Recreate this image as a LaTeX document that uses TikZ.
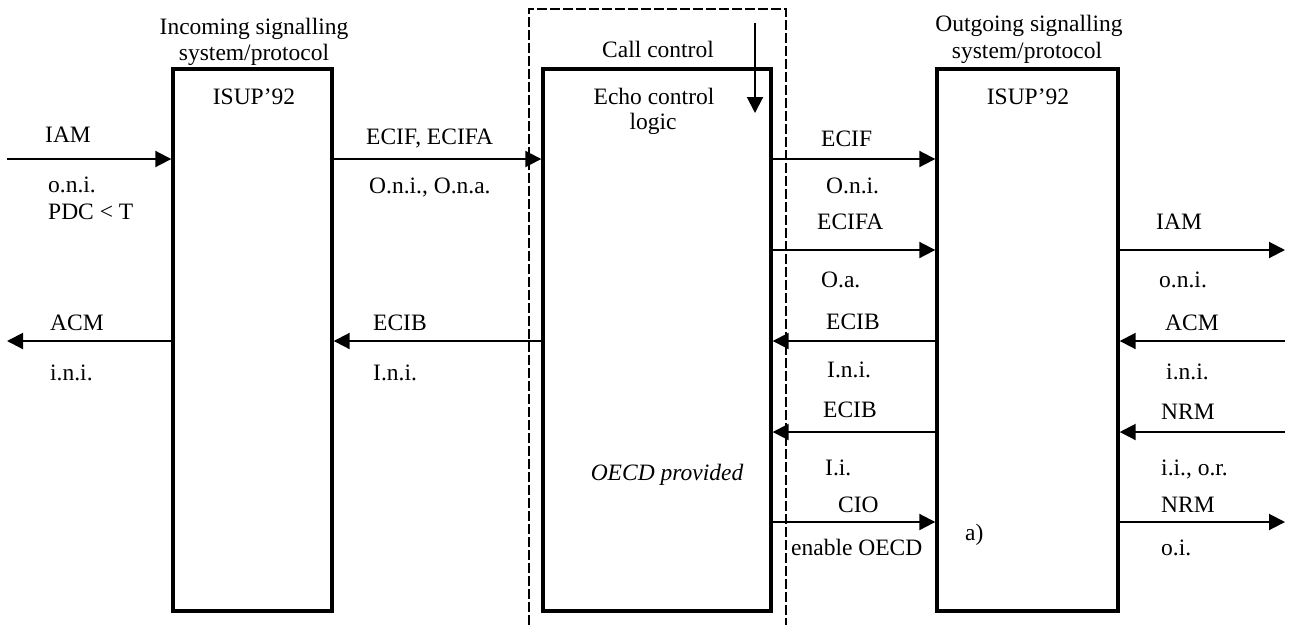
\documentclass[tikz,border=0pt]{standalone}
\usepackage{fontspec}
\setmainfont{Liberation Serif}
\usetikzlibrary{arrows.meta}
\begin{document}
\begin{tikzpicture}[x=1pt,y=-1pt,
  every node/.style={font=\fontsize{23.5}{28}\selectfont, text=black},
  blk/.style={draw, line width=3.4pt, rectangle, inner sep=0},
  sig/.style={line width=2pt, -{Triangle[length=16pt,width=16pt]}},
  lbl/.style={anchor=base west, inner sep=0},
  ctr/.style={anchor=base, inner sep=0},
  dsh/.style={line width=1.4pt, dash pattern=on 10pt off 3pt}]
\useasboundingbox (0,0) rectangle (1297,625);
% boxes
\node[blk, minimum width=159pt, minimum height=542pt] (lb) at (252.5,340) {};
\node[blk, minimum width=228pt, minimum height=542pt] (mb) at (657,340) {};
\node[blk, minimum width=181pt, minimum height=542pt] (rb) at (1027.5,340) {};
% call control dashed frame
\draw[dsh] (529,625) -- (529,9) -- (786,9) -- (786,625);
% row coordinates
\coordinate (r1) at (0,159);
\coordinate (r2) at (0,250);
\coordinate (r3) at (0,341);
\coordinate (r4) at (0,432);
\coordinate (r5) at (0,522);
\coordinate (lout1) at (7,159);
\coordinate (lout3) at (7,341);
\coordinate (rout2) at (1285,250);
\coordinate (rout3) at (1285,341);
\coordinate (rout4) at (1285,432);
\coordinate (rout5) at (1285,522);
\coordinate (dtop) at (755,23);
\coordinate (dbot) at (755,113);
% connectors
\draw[sig] (lout1) -- (lout1 -| lb.west);
\draw[sig] (lb.west |- lout3) -- (lout3);
\draw[sig] (lb.east |- r1) -- (mb.west |- r1);
\draw[sig] (mb.west |- r3) -- (lb.east |- r3);
\draw[sig] (mb.east |- r1) -- (rb.west |- r1);
\draw[sig] (mb.east |- r2) -- (rb.west |- r2);
\draw[sig] (rb.west |- r3) -- (mb.east |- r3);
\draw[sig] (rb.west |- r4) -- (mb.east |- r4);
\draw[sig] (mb.east |- r5) -- (rb.west |- r5);
\draw[sig] (rb.east |- rout2) -- (rout2);
\draw[sig] (rout3) -- (rout3 -| rb.east);
\draw[sig] (rout4) -- (rout4 -| rb.east);
\draw[sig] (rb.east |- rout5) -- (rout5);
\draw[sig] (dtop) -- (dbot);
% headers
\node[ctr] (inc1) at (254,34) {Incoming signalling};
\node[ctr] (inc2) at (254,60) {system/protocol};
\node[ctr] (isl) at (254,104) {ISUP’92};
\node[ctr] (out1) at (1029,31) {Outgoing signalling};
\node[ctr] (out2) at (1027,58) {system/protocol};
\node[ctr] (isr) at (1028,104) {ISUP’92};
\node[ctr] (cc) at (658,57) {Call control};
\node[ctr] (ec1) at (654,104) {Echo control};
\node[ctr] (ec2) at (653,129) {logic};
\node[ctr] (oecd) at (667,480) {\itshape OECD provided};
% left labels
\node[lbl] (l1) at (45,142) {IAM};
\node[lbl] (l2) at (48,192) {o.n.i.};
\node[lbl] (l3) at (48,219) {PDC < T};
\node[lbl] (l4) at (50,330) {ACM};
\node[lbl] (l5) at (50,380) {i.n.i.};
\node[lbl] (l6) at (366,144) {ECIF, ECIFA};
\node[lbl] (l7) at (369,193) {O.n.i., O.n.a.};
\node[lbl] (l8) at (373,330) {ECIB};
\node[lbl] (l9) at (373,380) {I.n.i.};
% middle-right labels
\node[lbl] (m1) at (821,146) {ECIF};
\node[lbl] (m2) at (826,193) {O.n.i.};
\node[lbl] (m3) at (817,229) {ECIFA};
\node[lbl] (m4) at (821,287) {O.a.};
\node[lbl] (m5) at (826,329) {ECIB};
\node[lbl] (m6) at (827,377) {I.n.i.};
\node[lbl] (m7) at (823,417) {ECIB};
\node[lbl] (m8) at (825,475) {I.i.};
\node[lbl] (m9) at (838,512) {CIO};
\node[lbl] (m10) at (791,555) {enable OECD};
\node[lbl] (ma) at (965,540) {a)};
% right labels
\node[lbl] (q1) at (1156,229) {IAM};
\node[lbl] (q2) at (1159,287) {o.n.i.};
\node[lbl] (q3) at (1165,330) {ACM};
\node[lbl] (q4) at (1166,379) {i.n.i.};
\node[lbl] (q5) at (1161,419) {NRM};
\node[lbl] (q6) at (1161,475) {i.i., o.r.};
\node[lbl] (q7) at (1161,512) {NRM};
\node[lbl] (q8) at (1161,555) {o.i.};
\end{tikzpicture}
\end{document}
